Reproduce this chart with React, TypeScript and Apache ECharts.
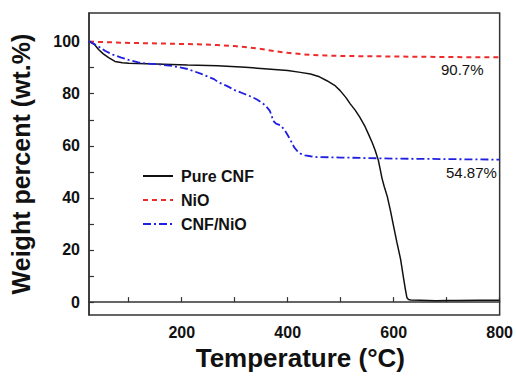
import React, { useEffect, useRef } from "react";
import * as echarts from "echarts";

const cnfT = [25, 35, 43, 52, 62, 74, 88, 100, 150, 211, 268, 320, 362, 400, 424, 443, 460, 474, 490, 499, 510, 518, 527, 536, 545, 552, 560, 565, 571, 575, 578, 582, 588, 594, 600, 606, 613, 619, 622, 625, 628, 632, 650, 680, 700, 720, 760, 800];
const cnfV = [100, 99, 97, 95.3, 93.9, 92.4, 91.9, 91.7, 91.4, 91, 90.7, 90.2, 89.5, 88.9, 88.2, 87.6, 86.5, 85, 83, 81.2, 78.5, 76.1, 73.8, 71, 67.8, 64.7, 61, 58.3, 54.5, 50.6, 47.5, 44.5, 40.5, 35, 29, 23, 16.5, 8.7, 5, 1.7, 1, 0.8, 0.7, 0.5, 0.6, 0.6, 0.7, 0.7];

const nioT = [25, 60, 86, 130, 181, 230, 268, 300, 330, 350, 374, 400, 425, 443, 470, 500, 550, 600, 650, 700, 750, 800];
const nioV = [100, 99.8, 99.6, 99.4, 99.2, 99, 98.7, 98.3, 97.7, 97.2, 96.4, 95.7, 95.2, 94.9, 94.7, 94.5, 94.4, 94.3, 94.2, 94.1, 94, 94];

const mixT = [25, 40, 56, 70, 86, 100, 118, 135, 150, 181, 211, 237, 261, 269, 285, 300, 315, 331, 342, 350, 358, 366, 370, 372, 378, 387, 395, 402, 407, 412, 418, 424, 433, 443, 455, 500, 550, 600, 650, 700, 750, 800];
const mixV = [100.2, 98.5, 96.4, 95, 93.9, 93, 92, 91.6, 91.4, 90.7, 89.5, 87.6, 85.6, 84.4, 83, 81.4, 80.2, 78.9, 77.8, 76.7, 75.5, 73.5, 71.5, 69.7, 68.5, 67.8, 65.8, 63.4, 61.5, 59.5, 58, 57, 56.3, 56, 55.7, 55.5, 55.3, 55.1, 55, 54.9, 54.8, 54.7];

const seriesNames = ["Pure CNF", "NiO", "CNF/NiO"];
const xTicks = [100, 200, 300, 400, 500, 600, 700, 800];
const xLabels = [200, 400, 600, 800];
const yTicks = [0, 10, 20, 30, 40, 50, 60, 70, 80, 90, 100];
const yLabels = [0, 20, 40, 60, 80, 100];
const annotations = ["90.7%", "54.87%"];

const FONT = "'Liberation Sans', Arial, sans-serif";

const zip = (t: number[], v: number[]) => t.map((x, i) => [x, v[i]]);

export default function App() {
  const ref = useRef<HTMLDivElement>(null);
  useEffect(() => {
    if (!ref.current) return;
    const chart = echarts.init(ref.current, null, { renderer: "svg" });
    chart.setOption({
      animation: false,
      backgroundColor: "#ffffff",
      grid: { left: 87, top: 13, right: 15, bottom: 60, show: true, borderColor: "#333", borderWidth: 1.5, backgroundColor: "transparent" },
      xAxis: {
        type: "value",
        min: 25,
        max: 800,
        splitLine: { show: false },
        axisLine: { show: true, lineStyle: { color: "#333", width: 1.5 } },
        axisTick: { show: true, inside: true, length: 5, customValues: xTicks, lineStyle: { color: "#333", width: 1.2 } },
        axisLabel: { customValues: xLabels, color: "#111", fontFamily: FONT, fontWeight: "bold", fontSize: 16, margin: 9 },
        name: "Temperature (°C)",
        nameLocation: "middle",
        nameGap: 27,
        nameTextStyle: { color: "#111", fontFamily: FONT, fontWeight: "bold", fontSize: 26, padding: [0, 0, 0, 12] },
      },
      yAxis: {
        type: "value",
        min: -5,
        max: 111,
        splitLine: { show: false },
        axisLine: { show: true, lineStyle: { color: "#333", width: 1.5 } },
        axisTick: { show: true, inside: true, length: 5, customValues: yTicks, lineStyle: { color: "#333", width: 1.2 } },
        axisLabel: { customValues: yLabels, color: "#111", fontFamily: FONT, fontWeight: "bold", fontSize: 16, margin: 9 },
        name: "Weight percent (wt.%)",
        nameLocation: "middle",
        nameGap: 56,
        nameTextStyle: { color: "#111", fontFamily: FONT, fontWeight: "bold", fontSize: 25 },
      },
      legend: {
        orient: "vertical",
        left: 137,
        top: 163,
        itemWidth: 30,
        itemHeight: 14,
        itemGap: 8,
        data: seriesNames,
        itemStyle: { opacity: 0 },
        textStyle: { color: "#111", fontFamily: FONT, fontWeight: "bold", fontSize: 16, padding: [0, 0, 0, 3] },
      },
      series: [
        { name: seriesNames[0], type: "line", symbol: "none", data: zip(cnfT, cnfV), lineStyle: { color: "#111", width: 1.5 }, itemStyle: { color: "#111" } },
        { name: seriesNames[1], type: "line", symbol: "none", data: zip(nioT, nioV), lineStyle: { color: "#ee2a2a", width: 2, type: [5, 4] }, itemStyle: { color: "#ee2a2a" } },
        { name: seriesNames[2], type: "line", symbol: "none", data: zip(mixT, mixV), lineStyle: { color: "#2020e0", width: 1.8, type: [8, 3, 2, 3] }, itemStyle: { color: "#2020e0" } },
      ],
      graphic: [
        { type: "text", left: 441, top: 62, style: { text: annotations[0], font: `15px ${FONT}`, fill: "#111" } },
        { type: "text", left: 446, top: 165, style: { text: annotations[1], font: `15px ${FONT}`, fill: "#111" } },
      ],
    });
    return () => chart.dispose();
  }, []);
  return <div ref={ref} style={{ position: "fixed", left: 0, top: 0, width: 516, height: 376 }} />;
}
